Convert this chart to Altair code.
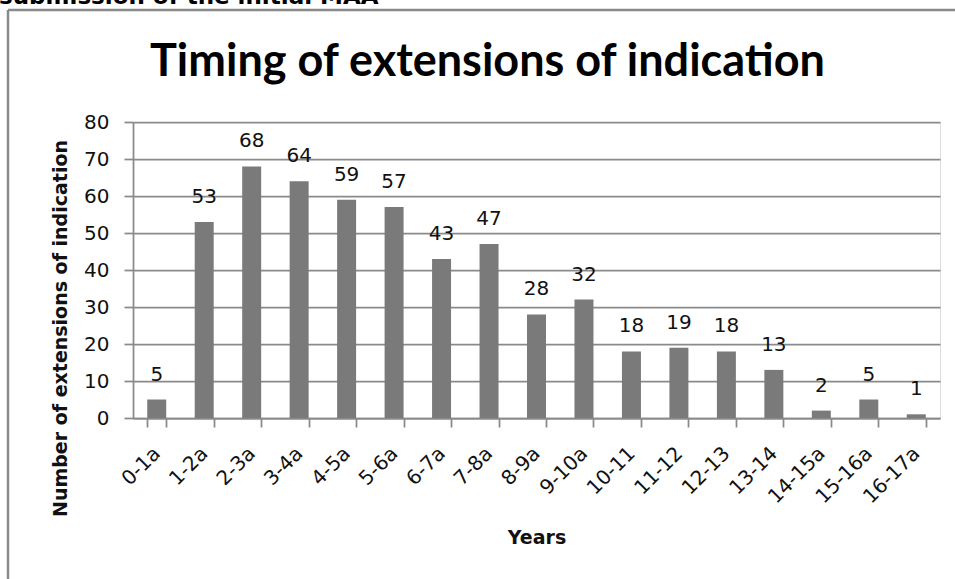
import altair as alt
import pandas as pd

# Number of extensions of indication per year interval after the initial MAA
years = ["0-1a", "1-2a", "2-3a", "3-4a", "4-5a", "5-6a", "6-7a", "7-8a", "8-9a",
         "9-10a", "10-11", "11-12", "12-13", "13-14", "14-15a", "15-16a", "16-17a"]
counts = [5, 53, 68, 64, 59, 57, 43, 47, 28, 32, 18, 19, 18, 13, 2, 5, 1]
y_ticks = [0, 10, 20, 30, 40, 50, 60, 70, 80]

chart_title = "Timing of extensions of indication"
caption_text = ["submission of the initial MAA"]

FONT = "DejaVu Sans"
TITLE_FONT = "Lato"
GREY = "#8a8a8a"
BAR = "#7a7a7a"
INK = "#111111"

df = pd.DataFrame({"years": years, "count": counts})
caption_df = pd.DataFrame({"caption": caption_text})

W, H = 807, 296

x_enc = alt.X(
    "years:N", sort=years, title="Years",
    scale=alt.Scale(paddingInner=0.6, paddingOuter=0.3),
    axis=alt.Axis(
        labelAngle=315, labelAlign="right", labelBaseline="middle",
        labelFont=FONT, labelFontSize=20, labelColor=INK, labelOverlap=False,
        labelPadding=23, tickSize=9, tickBand="extent",
        tickColor=GREY, tickWidth=1.75, domainColor=GREY, domainWidth=1.75,
        grid=False, titleFont=FONT, titleFontSize=19, titleFontWeight="bold",
        titleColor=INK, titleY=119, titleBaseline="middle",
    ),
)
y_enc = alt.Y(
    "count:Q", title="Number of extensions of indication",
    scale=alt.Scale(domain=[0, 80], nice=False),
    axis=alt.Axis(
        values=y_ticks, labelOverlap=False, labelFont=FONT, labelFontSize=20,
        labelColor=INK, labelPadding=15, tickSize=9, tickColor=GREY,
        tickWidth=1.75, domainColor=GREY, domainWidth=1.75, gridColor=GREY,
        gridWidth=1.75, gridOpacity=1, titleFont=FONT, titleFontSize=19,
        titleFontWeight="bold", titleColor=INK, titleX=-67, titleY=206,
        titleAngle=270, titleAlign="center", titleBaseline="alphabetic",
    ),
)

bars = alt.Chart(df).mark_bar(color=BAR).encode(x=x_enc, y=y_enc)

values = alt.Chart(df).mark_text(
    font=FONT, fontSize=20, color=INK, baseline="alphabetic", dy=-19
).encode(x=x_enc, y=y_enc, text="count:Q")

# outer frame around the chart
frame_left = alt.Chart(caption_df).mark_rule(color=GREY, strokeWidth=2.5).encode(
    x=alt.value(-125), y=alt.value(-112), y2=alt.value(480)
)
frame_top = alt.Chart(caption_df).mark_rule(color=GREY, strokeWidth=2.5).encode(
    x=alt.value(-125), x2=alt.value(860), y=alt.value(-112)
)

caption = alt.Chart(caption_df).mark_text(
    font=FONT, fontSize=23, fontWeight="bold", color="#000",
    align="left", baseline="alphabetic"
).encode(x=alt.value(-134), y=alt.value(-118), text="caption:N")

title = alt.Chart(caption_df).mark_text(
    font=TITLE_FONT, fontSize=45, fontWeight="bold", color="#000",
    align="center", baseline="alphabetic"
).encode(x=alt.value(W / 2 - 49), y=alt.value(-46), text=alt.value(chart_title))

chart = alt.layer(frame_left, frame_top, caption, title, bars, values).properties(
    width=W, height=H,
    autosize=alt.AutoSizeParams(type="none"),
    padding={"left": 133, "top": 122, "right": 15, "bottom": 161},
).configure_view(stroke=None).configure(background="white")

chart.save("out.html", embed_options={"renderer": "svg", "actions": False})
